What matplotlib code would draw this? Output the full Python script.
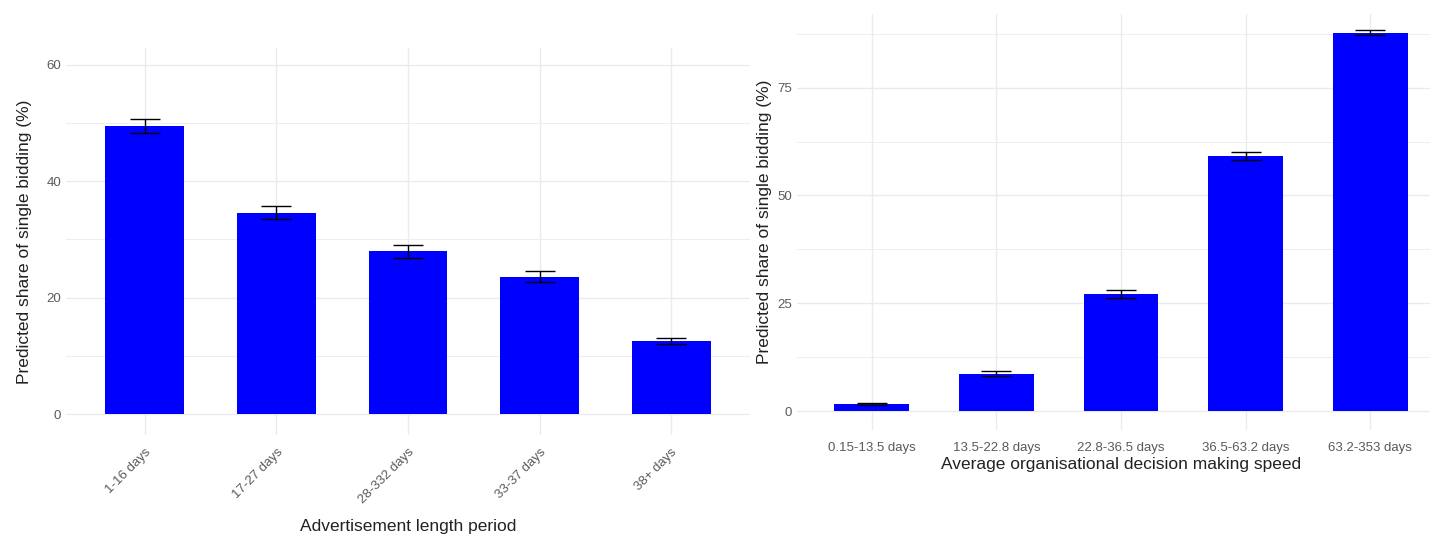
import numpy as np
import matplotlib.pyplot as plt

# left panel: advertisement length
adv_labels = ["1-16 days", "17-27 days", "28-332 days", "33-37 days", "38+ days"]
adv_share = [49.5, 34.6, 28.0, 23.6, 12.6]
adv_err = [1.2, 1.1, 1.1, 0.9, 0.5]

# right panel: decision making speed
speed_labels = ["0.15-13.5 days", "13.5-22.8 days", "22.8-36.5 days",
                "36.5-63.2 days", "63.2-353 days"]
speed_share = [1.6, 8.7, 27.1, 59.2, 87.8]
speed_err = [0.3, 0.5, 0.9, 0.9, 0.6]

BAR_COLOR = "#0000ff"
GRID_COLOR = "#ebebeb"
TICK_COLOR = "#5a5a5a"

plt.rcParams["font.family"] = ["Liberation Sans", "DejaVu Sans"]

fig = plt.figure(figsize=(14.3, 5.38), dpi=100)
ax1 = fig.add_axes([66 / 1430, 103 / 538, 684 / 1430, 387 / 538])
ax2 = fig.add_axes([797 / 1430, 108 / 538, 648 / 1430, 416 / 538])


def style_axis(ax, major, minor, ylim):
    x = np.arange(5)
    ax.set_xlim(-0.6, 4.6)
    ax.set_ylim(*ylim)
    ax.set_yticks(major)
    ax.set_yticks(minor, minor=True)
    ax.set_xticks(x)
    ax.grid(True, which="major", color=GRID_COLOR, linewidth=1.0, zorder=0)
    ax.grid(True, which="minor", axis="y", color=GRID_COLOR, linewidth=0.6, zorder=0)
    ax.set_axisbelow(True)
    for s in ax.spines.values():
        s.set_visible(False)
    ax.tick_params(which="both", length=0, colors=TICK_COLOR, labelsize=9.5)


def draw_bars(ax, vals, errs):
    x = np.arange(len(vals))
    ax.bar(x, vals, width=0.6, color=BAR_COLOR, zorder=2)
    ax.errorbar(x, vals, yerr=errs, fmt="none", ecolor="black",
                elinewidth=1.0, capsize=11, capthick=1.0, zorder=3)


style_axis(ax1, [0, 20, 40, 60], [10, 30, 50], (-3.6, 62.9))
draw_bars(ax1, adv_share, adv_err)
ax1.set_xticklabels(adv_labels, rotation=45, ha="right", rotation_mode="anchor")
ax1.tick_params(axis="x", pad=8)
ax1.set_ylabel("Predicted share of single bidding (%)", fontsize=12.5, color="#222222")
ax1.yaxis.set_label_coords(-0.05, 0.5)
ax1.set_xlabel("Advertisement length period", fontsize=12.5, color="#222222", labelpad=9)

style_axis(ax2, [0, 25, 50, 75], [12.5, 37.5, 62.5, 87.5], (-4.4, 92.1))
draw_bars(ax2, speed_share, speed_err)
ax2.set_xticklabels(speed_labels)
ax2.tick_params(axis="x", pad=9)
ax2.set_ylabel("Predicted share of single bidding (%)", fontsize=12.5, color="#222222")
ax2.set_xlabel("Average organisational decision making speed", fontsize=12.5,
               color="#222222", labelpad=2)

fig.savefig("out.png", dpi=100)
